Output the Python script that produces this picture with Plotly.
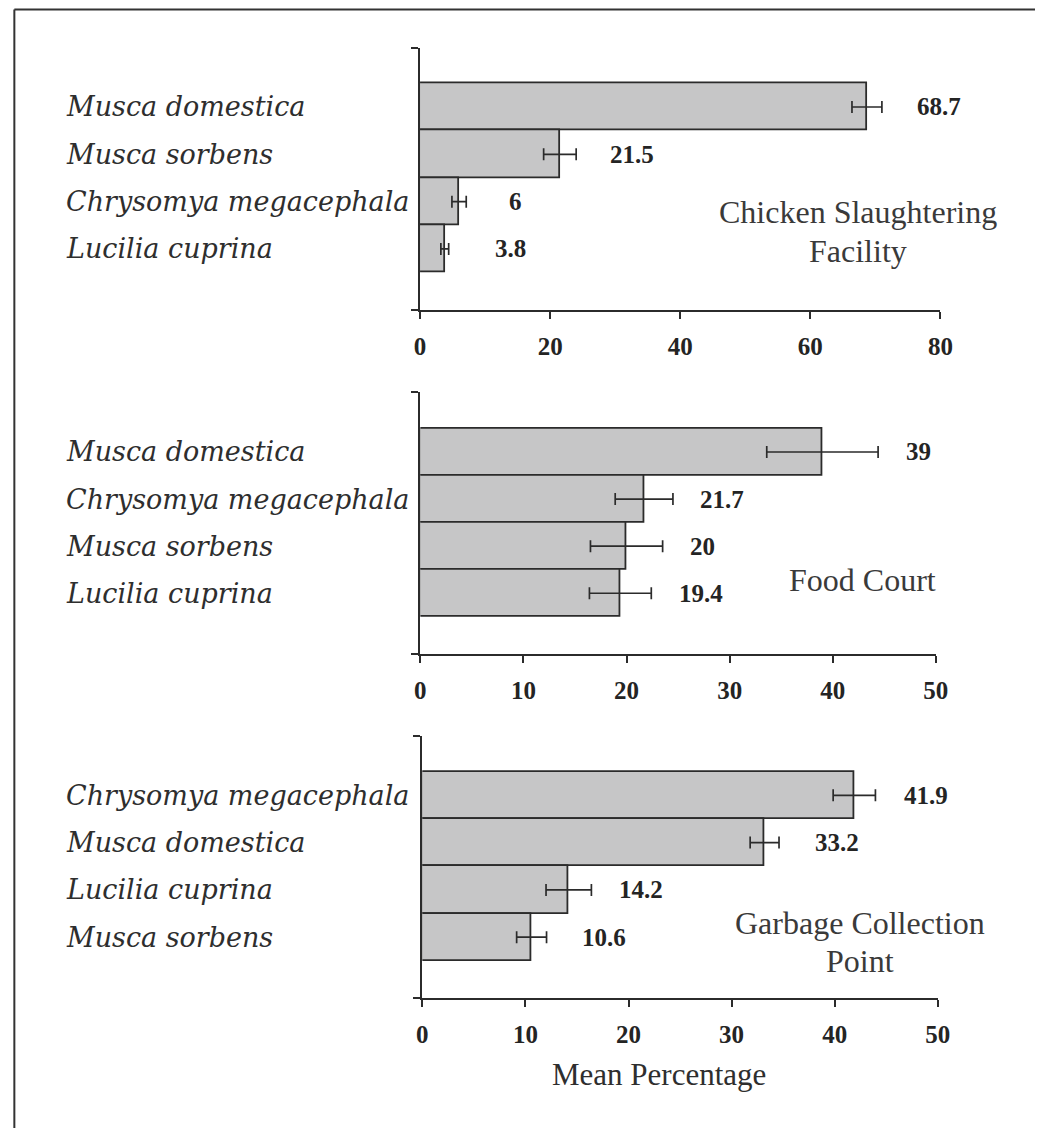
import plotly.graph_objects as go

W, H = 1048, 1128

# Chicken Slaughtering Facility
chicken_species = ["Musca domestica", "Musca sorbens", "Chrysomya megacephala", "Lucilia cuprina"]
chicken_mean = [68.7, 21.5, 6, 3.8]
chicken_err = [2.3, 2.5, 1.1, 0.6]
chicken_ticks = [0, 20, 40, 60, 80]

# Food Court
food_species = ["Musca domestica", "Chrysomya megacephala", "Musca sorbens", "Lucilia cuprina"]
food_mean = [39, 21.7, 20, 19.4]
food_err = [5.4, 2.8, 3.5, 3.0]
food_ticks = [0, 10, 20, 30, 40, 50]

# Garbage Collection Point
garbage_species = ["Chrysomya megacephala", "Musca domestica", "Lucilia cuprina", "Musca sorbens"]
garbage_mean = [41.9, 33.2, 14.2, 10.6]
garbage_err = [2.05, 1.4, 2.2, 1.45]
garbage_ticks = [0, 10, 20, 30, 40, 50]

site_titles = [["Chicken Slaughtering", "Facility"], ["Food Court"], ["Garbage Collection", "Point"]]
axis_title = "Mean Percentage"

# panel geometry in pixels: plot box and site-label line centres
panels = [
    dict(species=chicken_species, mean=chicken_mean, err=chicken_err, ticks=chicken_ticks,
         left=421.7, right=951.7, top=48.3, bottom=310.0, yr=(-1.24, 4.29),
         title_x=868, title_y=[212, 251]),
    dict(species=food_species, mean=food_mean, err=food_err, ticks=food_ticks,
         left=422.0, right=947.0, top=391.7, bottom=654.0, yr=(-1.28, 4.29),
         title_x=872, title_y=[580]),
    dict(species=garbage_species, mean=garbage_mean, err=garbage_err, ticks=garbage_ticks,
         left=424.0, right=949.0, top=736.0, bottom=997.7, yr=(-1.255, 4.28),
         title_x=870, title_y=[923, 961]),
]

AX = "#2b2b2b"
BAR_FILL = "#c6c6c7"
LABEL_FONT = dict(family="DejaVu Serif", size=27, color="#2e2e2e", style="italic")
VALUE_FONT = dict(family="Liberation Serif", size=25, color="#242424", weight="bold")
SITE_FONT = dict(family="Liberation Serif", size=32, color="#3a3a3a")

fig = go.Figure()
annotations = []
layout_axes = {}

for k, p in enumerate(panels, start=1):
    xa = "x" if k == 1 else f"x{k}"
    ya = "y" if k == 1 else f"y{k}"
    xkey = "xaxis" if k == 1 else f"xaxis{k}"
    ykey = "yaxis" if k == 1 else f"yaxis{k}"
    pos = list(range(len(p["species"])))
    xmax = p["ticks"][-1]
    ppu = (p["right"] - p["left"]) / xmax

    fig.add_trace(go.Bar(
        x=p["mean"], y=pos, orientation="h", width=1.0,
        marker=dict(color=BAR_FILL, line=dict(color=AX, width=1.8)),
        error_x=dict(type="data", array=p["err"], visible=True,
                     color=AX, thickness=1.7, width=6),
        xaxis=xa, yaxis=ya, showlegend=False, hoverinfo="skip",
    ))

    layout_axes[xkey] = dict(
        domain=[p["left"] / W, p["right"] / W], anchor=ya,
        range=[0, xmax], tickvals=p["ticks"], ticktext=[str(t) for t in p["ticks"]],
        showline=True, linecolor=AX, linewidth=2, ticks="outside", ticklen=7,
        tickwidth=2, tickcolor=AX, showgrid=False, zeroline=False,
        tickfont=VALUE_FONT, ticklabelstandoff=6, fixedrange=True,
    )
    y0, y1 = p["yr"]
    layout_axes[ykey] = dict(
        domain=[1 - p["bottom"] / H, 1 - p["top"] / H], anchor=xa,
        range=[y1, y0], tickvals=[y0 + 0.002, y1 - 0.002], showticklabels=False,
        showline=True, linecolor=AX, linewidth=2, ticks="outside", ticklen=7,
        tickwidth=2, tickcolor=AX, showgrid=False, zeroline=False, fixedrange=True,
    )

    for i, name in enumerate(p["species"]):
        annotations.append(dict(
            text=name, xref="paper", yref=ya, x=59 / W, y=i,
            xanchor="left", yanchor="middle", showarrow=False, font=LABEL_FONT,
        ))
        m, e = p["mean"][i], p["err"][i]
        annotations.append(dict(
            text=str(m), xref=xa, yref=ya, x=m, y=i,
            xshift=max(48, e * ppu + 25), xanchor="left", yanchor="middle",
            showarrow=False, font=VALUE_FONT,
        ))

    for line, ty in zip(site_titles[k - 1], p["title_y"]):
        annotations.append(dict(
            text=line, xref="paper", yref="paper", x=p["title_x"] / W, y=1 - ty / H,
            xanchor="center", yanchor="middle", showarrow=False, font=SITE_FONT,
        ))

annotations.append(dict(
    text=axis_title, xref="paper", yref="paper", x=665 / W, y=1 - 1074 / H,
    xanchor="center", yanchor="middle", showarrow=False,
    font=dict(family="Liberation Serif", size=31, color="#2e2e2e"),
))

# frame along the top and left edges
shapes = [
    dict(type="line", xref="paper", yref="paper", x0=8.5 / W, x1=1, y0=1 - 9.5 / H, y1=1 - 9.5 / H,
         line=dict(color="#333333", width=2)),
    dict(type="line", xref="paper", yref="paper", x0=8.5 / W, x1=8.5 / W, y0=0, y1=1 - 9.5 / H,
         line=dict(color="#333333", width=2)),
]

fig.update_layout(
    width=W, height=H, margin=dict(l=0, r=0, t=0, b=0),
    paper_bgcolor="white", plot_bgcolor="white",
    bargap=0, annotations=annotations, shapes=shapes, **layout_axes,
)

fig.write_html("out.html", config={"displayModeBar": False})
